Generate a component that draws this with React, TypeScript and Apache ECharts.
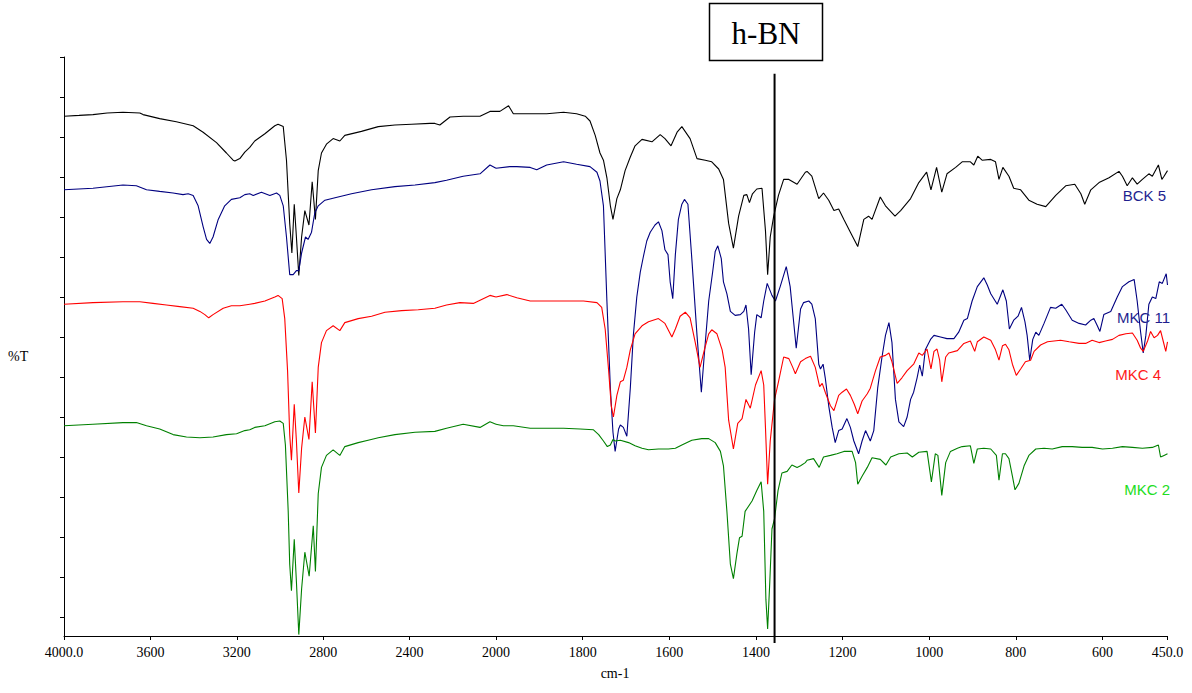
import React, { useEffect, useRef } from 'react';
import * as echarts from 'echarts';

// Wavenumber axis is split: 4000-2000 (400 per division) and 2000-450 (200 per division)
const BREAK = 2000;
const X_TICKS_LOW = [1800, 1600, 1400, 1200, 1000, 800, 600, 450];
const Y_TICKS = [0, 5, 10, 15, 20, 25, 30, 35, 40, 45, 50, 55, 60, 65, 70];
const Y_MIN = -2.375;
const Y_MAX = 70;

// h-BN marker position (cm-1) and its vertical extent (%T units)
const HBN_LINE: [number, number][] = [[1357, 67.9], [1357, -3.25]];

// [wavenumber cm-1, %T (offset, arbitrary units)]
const BCK5: [number, number][] = [[4000,62.6],[3930,62.7],[3866,62.8],[3800,63.0],[3727,63.1],[3649,63.0],[3634,62.8],[3557,62.3],[3480,61.9],[3402,61.4],[3356,60.6],[3294,59.3],[3248,58.0],[3217,57.1],[3209,57.0],[3186,57.3],[3163,58.1],[3140,58.7],[3117,59.5],[3070,60.4],[3024,61.4],[3009,61.6],[2985,61.3],[2970,57.1],[2955,49.2],[2945,45.5],[2934,51.6],[2924,47.5],[2913,42.7],[2900,47.5],[2885,50.8],[2866,49.0],[2851,54.4],[2836,49.7],[2823,55.8],[2808,58.0],[2785,59.1],[2754,59.8],[2723,59.5],[2700,60.2],[2623,60.7],[2545,61.3],[2468,61.5],[2391,61.6],[2306,61.7],[2283,61.7],[2260,61.5],[2213,62.5],[2152,62.6],[2074,62.6],[2028,63.2],[2000,63.2],[1991,63.2],[1971,63.9],[1960,62.9],[1921,62.9],[1883,62.9],[1844,63.1],[1814,62.9],[1794,62.6],[1783,62.0],[1771,60.2],[1760,58.0],[1752,57.1],[1744,54.9],[1736,51.4],[1730,49.7],[1721,52.3],[1713,53.4],[1702,55.8],[1690,57.5],[1679,58.9],[1663,59.7],[1640,59.4],[1621,60.3],[1610,59.8],[1596,58.9],[1582,60.6],[1571,61.3],[1552,59.8],[1536,57.3],[1517,57.1],[1502,56.9],[1486,56.0],[1475,54.7],[1463,49.2],[1452,46.1],[1440,50.1],[1428,52.7],[1421,52.8],[1415,51.8],[1408,52.9],[1398,53.5],[1386,53.6],[1378,48.3],[1373,42.8],[1367,47.5],[1359,50.1],[1348,52.7],[1336,54.7],[1324,54.7],[1305,54.1],[1286,55.6],[1282,55.7],[1271,55.1],[1255,52.3],[1244,53.0],[1232,52.1],[1220,50.8],[1209,51.0],[1197,49.7],[1182,48.1],[1165,46.3],[1151,49.7],[1140,50.1],[1132,49.7],[1113,52.5],[1101,51.4],[1079,50.1],[1066,50.8],[1043,52.3],[1024,54.3],[1006,55.6],[996,53.4],[983,56.2],[971,53.1],[959,55.4],[939,56.2],[924,56.9],[905,56.9],[897,56.5],[888,57.6],[878,57.1],[858,57.2],[847,56.9],[839,54.7],[830,56.2],[816,55.1],[805,53.6],[789,53.4],[770,52.1],[751,51.6],[731,51.3],[708,52.7],[685,53.9],[664,54.1],[650,52.9],[641,51.6],[627,53.4],[608,54.3],[585,54.9],[562,55.7],[554,55.1],[543,53.9],[531,54.9],[520,54.1],[508,54.7],[493,55.4],[485,55.1],[471,56.5],[463,54.7],[458,55.1],[450,55.8]];

const MKC11: [number, number][] = [[4000,53.4],[3866,53.6],[3727,54.0],[3665,53.9],[3618,53.4],[3557,53.2],[3495,53.0],[3449,52.8],[3425,52.9],[3402,52.7],[3379,51.4],[3356,48.8],[3340,47.2],[3325,46.7],[3310,47.5],[3286,49.7],[3256,51.4],[3225,52.2],[3186,52.4],[3163,52.8],[3140,52.9],[3124,52.7],[3086,53.1],[3047,52.7],[3016,53.0],[3001,52.7],[2985,51.4],[2970,47.5],[2955,42.8],[2939,42.8],[2924,43.3],[2913,43.3],[2900,45.5],[2882,47.5],[2870,47.2],[2854,48.1],[2839,50.5],[2823,51.4],[2792,52.1],[2731,52.5],[2669,52.9],[2576,53.4],[2468,53.8],[2375,54.0],[2283,54.3],[2229,54.6],[2152,55.1],[2074,55.4],[2028,56.5],[2000,56.1],[1968,56.3],[1952,56.3],[1921,56.2],[1906,55.9],[1883,56.5],[1844,56.9],[1814,56.6],[1783,56.3],[1767,55.6],[1760,54.5],[1752,51.4],[1744,39.5],[1736,28.6],[1730,23.1],[1725,20.7],[1717,23.5],[1713,24.0],[1706,23.7],[1698,22.6],[1690,28.6],[1683,35.2],[1675,40.0],[1667,43.1],[1660,45.0],[1652,47.0],[1644,48.1],[1633,49.0],[1625,49.4],[1617,48.3],[1610,45.9],[1603,45.3],[1598,41.9],[1592,39.8],[1586,45.3],[1579,49.7],[1571,51.6],[1565,52.2],[1557,51.6],[1548,44.8],[1536,35.2],[1526,28.1],[1519,32.9],[1509,39.5],[1500,43.1],[1494,45.7],[1488,46.4],[1480,44.8],[1475,41.9],[1467,40.4],[1459,38.2],[1448,37.7],[1436,37.8],[1428,38.2],[1423,39.0],[1417,36.0],[1411,30.3],[1403,35.6],[1398,37.8],[1388,37.4],[1382,39.5],[1374,41.7],[1363,40.2],[1355,39.5],[1344,41.3],[1330,43.8],[1321,41.3],[1313,36.9],[1307,33.6],[1297,38.5],[1290,39.3],[1278,39.5],[1271,39.1],[1263,37.3],[1255,31.6],[1251,31.0],[1245,31.6],[1240,29.9],[1232,26.4],[1224,23.7],[1217,21.8],[1209,23.3],[1201,23.5],[1190,24.8],[1182,23.7],[1174,22.0],[1163,20.4],[1155,22.0],[1147,23.3],[1136,22.0],[1128,23.3],[1119,28.6],[1109,32.5],[1101,35.2],[1093,36.8],[1086,34.3],[1078,27.2],[1070,24.4],[1059,23.8],[1051,25.0],[1043,27.2],[1036,28.1],[1028,29.9],[1022,31.5],[1016,30.1],[1009,33.4],[997,34.7],[989,35.2],[974,35.0],[959,34.8],[943,34.8],[932,35.6],[920,37.1],[912,37.3],[901,39.5],[889,41.3],[874,42.4],[866,41.5],[858,40.4],[843,39.1],[830,40.9],[822,39.5],[815,36.0],[805,37.1],[795,37.6],[787,38.7],[779,36.9],[774,35.2],[768,32.1],[761,34.7],[754,35.6],[747,35.2],[735,36.7],[720,38.7],[708,38.6],[694,39.1],[685,38.4],[670,37.1],[654,36.7],[639,36.5],[627,37.1],[620,37.3],[612,36.4],[606,35.7],[597,37.8],[581,38.2],[566,40.0],[554,41.3],[539,41.9],[527,42.2],[520,39.5],[512,35.6],[506,33.0],[500,35.2],[493,39.1],[485,40.0],[477,39.8],[469,41.9],[462,41.7],[453,42.9],[450,41.5]];

const MKC4: [number, number][] = [[4000,39.1],[3866,39.3],[3727,39.4],[3649,39.4],[3588,39.2],[3526,39.0],[3464,38.8],[3402,38.6],[3371,38.2],[3348,37.8],[3330,37.4],[3310,37.8],[3263,38.6],[3225,38.9],[3186,38.9],[3140,39.1],[3117,39.2],[3070,39.5],[3024,40.0],[3009,40.2],[2990,39.8],[2978,37.3],[2965,30.8],[2955,22.8],[2947,19.6],[2934,26.6],[2924,22.0],[2913,15.5],[2900,21.1],[2885,25.0],[2866,22.2],[2851,29.4],[2836,23.0],[2823,31.2],[2808,34.3],[2785,35.8],[2754,36.4],[2723,35.8],[2700,36.8],[2638,37.3],[2576,37.6],[2514,38.1],[2437,38.3],[2360,38.4],[2283,38.6],[2229,39.0],[2167,39.3],[2105,39.2],[2028,40.2],[2000,40.0],[1975,40.3],[1952,39.9],[1921,39.5],[1883,39.5],[1844,39.5],[1798,39.5],[1767,39.3],[1756,38.7],[1748,36.0],[1740,30.8],[1734,26.4],[1729,25.0],[1721,27.7],[1713,29.4],[1706,29.6],[1698,31.2],[1690,33.4],[1679,35.4],[1663,36.4],[1648,36.9],[1625,37.3],[1610,36.7],[1594,35.0],[1586,36.0],[1575,37.6],[1563,38.1],[1552,37.4],[1540,34.3],[1529,31.2],[1519,33.4],[1509,35.4],[1502,35.9],[1490,35.4],[1478,33.4],[1471,31.2],[1463,24.6],[1452,21.0],[1442,24.2],[1432,24.8],[1423,27.2],[1413,26.1],[1401,29.0],[1388,30.8],[1382,29.0],[1378,23.7],[1373,16.6],[1367,22.0],[1357,27.2],[1348,29.4],[1336,32.5],[1324,32.3],[1315,31.2],[1309,30.4],[1297,31.9],[1286,32.3],[1274,32.6],[1263,31.2],[1253,28.8],[1247,29.2],[1240,28.1],[1228,26.4],[1220,25.8],[1209,27.7],[1201,28.1],[1191,28.5],[1182,27.7],[1173,26.6],[1165,25.4],[1155,27.0],[1143,27.9],[1136,28.6],[1124,30.8],[1113,32.5],[1101,32.7],[1093,33.0],[1086,31.9],[1074,29.2],[1063,29.9],[1051,30.8],[1036,31.6],[1024,33.0],[1016,32.7],[1005,33.5],[996,31.0],[989,33.2],[982,33.5],[976,32.1],[971,29.4],[962,32.5],[955,33.0],[935,33.3],[920,34.2],[905,34.5],[895,33.2],[889,34.4],[874,35.0],[858,34.6],[847,33.4],[839,32.1],[831,33.9],[824,34.1],[816,33.4],[808,31.6],[799,30.2],[789,31.0],[778,31.9],[766,32.1],[758,33.2],[743,34.0],[727,34.4],[712,34.5],[697,34.6],[677,34.4],[654,34.2],[639,34.2],[624,34.6],[608,34.3],[593,34.5],[577,34.7],[562,35.2],[546,35.4],[531,35.5],[520,34.6],[512,33.6],[506,33.2],[496,34.5],[489,35.7],[481,34.9],[473,35.2],[466,35.8],[460,34.5],[454,33.2],[450,34.4]];

const MKC2: [number, number][] = [[4000,23.9],[3866,24.1],[3727,24.3],[3665,24.3],[3618,23.9],[3557,23.5],[3495,22.8],[3433,22.5],[3371,22.4],[3310,22.5],[3248,22.8],[3201,22.9],[3163,23.3],[3140,23.4],[3117,23.7],[3070,23.9],[3024,24.4],[3001,24.5],[2985,24.2],[2975,21.5],[2962,13.2],[2955,6.6],[2947,3.3],[2934,9.7],[2924,4.4],[2913,-2.2],[2900,3.5],[2885,8.1],[2865,5.1],[2846,11.4],[2836,5.7],[2823,15.4],[2808,18.7],[2785,20.2],[2754,20.9],[2723,20.2],[2700,21.3],[2638,21.8],[2592,22.1],[2545,22.4],[2468,22.8],[2375,23.1],[2283,23.2],[2229,23.6],[2152,24.1],[2074,23.7],[2028,24.4],[2000,24.1],[1983,23.9],[1960,23.9],[1921,23.6],[1883,23.6],[1844,23.6],[1806,23.5],[1775,23.4],[1763,22.8],[1752,22.0],[1743,21.3],[1736,21.5],[1730,22.2],[1725,22.0],[1713,22.1],[1694,21.8],[1679,21.4],[1663,21.1],[1648,20.9],[1625,21.0],[1602,21.0],[1586,21.1],[1571,21.5],[1548,22.1],[1525,22.3],[1509,22.3],[1494,21.8],[1482,20.7],[1475,18.9],[1467,13.2],[1459,6.6],[1452,4.8],[1444,7.9],[1438,9.9],[1432,10.1],[1425,13.2],[1409,14.5],[1398,15.8],[1388,16.9],[1382,13.2],[1377,2.2],[1373,-1.5],[1368,4.4],[1363,11.0],[1357,12.3],[1349,15.8],[1340,18.0],[1328,18.2],[1317,19.0],[1305,18.7],[1297,18.9],[1286,19.3],[1282,19.6],[1267,19.8],[1254,18.7],[1244,20.0],[1228,20.2],[1213,20.4],[1197,20.7],[1178,20.7],[1170,19.3],[1165,16.6],[1155,17.6],[1143,18.7],[1132,19.9],[1113,19.7],[1100,19.0],[1089,20.0],[1070,20.4],[1051,20.5],[1039,20.0],[1024,20.6],[1005,20.7],[995,16.9],[986,20.4],[980,20.2],[971,15.2],[962,19.3],[951,20.7],[935,21.1],[924,21.3],[905,21.4],[897,19.2],[889,21.0],[874,21.1],[858,21.0],[845,20.2],[839,17.1],[831,20.4],[824,20.4],[816,19.8],[808,17.6],[802,15.9],[793,16.7],[781,18.9],[770,20.2],[754,21.0],[735,21.1],[716,21.0],[693,21.3],[670,21.3],[647,21.2],[624,21.2],[600,21.0],[577,21.1],[554,21.3],[531,21.2],[508,21.1],[485,21.2],[471,21.5],[466,20.0],[458,20.2],[450,20.4]];

const SPECTRA = [
  { name: 'BCK 5', data: BCK5, color: '#000000' },
  { name: 'MKC 11', data: MKC11, color: '#000080' },
  { name: 'MKC 4', data: MKC4, color: '#ff0000' },
  { name: 'MKC 2', data: MKC2, color: '#008000' },
];

const SERIF = 'Liberation Serif';
const SANS = 'Liberation Sans';

export default function App() {
  const ref = useRef<HTMLDivElement>(null);

  useEffect(() => {
    if (!ref.current) return;
    const chart = echarts.init(ref.current, null, { renderer: 'svg' });

    const axisLine = { show: true, onZero: false, lineStyle: { color: '#000', width: 1 } };
    const series: any[] = [];
    SPECTRA.forEach((s) => {
      series.push({
        type: 'line', name: s.name, xAxisIndex: 0, yAxisIndex: 0,
        data: s.data.filter((p) => p[0] >= BREAK), showSymbol: false, symbol: 'none',
        lineStyle: { color: s.color, width: 1.1 }, itemStyle: { color: s.color }, silent: true,
      });
      series.push({
        type: 'line', name: s.name, xAxisIndex: 1, yAxisIndex: 1,
        data: s.data.filter((p) => p[0] <= BREAK), showSymbol: false, symbol: 'none',
        lineStyle: { color: s.color, width: 1.1 }, itemStyle: { color: s.color }, silent: true,
      });
    });
    series.push({
      type: 'line', name: 'h-BN', xAxisIndex: 1, yAxisIndex: 1, data: HBN_LINE,
      showSymbol: false, symbol: 'none', clip: false,
      lineStyle: { color: '#000', width: 2 }, silent: true, z: 5,
    });

    const labelStyle = { color: '#000', fontFamily: SERIF, fontSize: 14, margin: 9 };

    chart.setOption({
      animation: false,
      backgroundColor: '#ffffff',
      textStyle: { fontFamily: SERIF },
      grid: [
        { left: 64, top: 57, width: 432, height: 579 },
        { left: 496, top: 57, width: 671.5, height: 579 },
      ],
      xAxis: [
        {
          gridIndex: 0, type: 'value', min: 2000, max: 4000, interval: 400, inverse: true,
          axisLine, splitLine: { show: false },
          axisTick: { show: true, length: 4, lineStyle: { color: '#000' } },
          axisLabel: {
            ...labelStyle,
            showMinLabel: true, showMaxLabel: true,
            formatter: (v: number) => (v === 4000 ? '4000.0' : String(v)),
          },
        },
        {
          gridIndex: 1, type: 'value', min: 450, max: 2000, inverse: true,
          axisLine, splitLine: { show: false },
          axisTick: { show: true, length: 4, customValues: X_TICKS_LOW, lineStyle: { color: '#000' } },
          axisLabel: {
            ...labelStyle,
            customValues: X_TICKS_LOW,
            formatter: (v: number) => (v === 450 ? '450.0' : String(v)),
          },
        },
      ],
      yAxis: [
        {
          gridIndex: 0, type: 'value', min: Y_MIN, max: Y_MAX,
          axisLine: { show: true, onZero: false, lineStyle: { color: '#000', width: 1 } },
          axisTick: { show: true, length: 4, customValues: Y_TICKS, lineStyle: { color: '#000' } },
          axisLabel: { show: false }, splitLine: { show: false },
        },
        {
          gridIndex: 1, type: 'value', min: Y_MIN, max: Y_MAX, show: false,
          splitLine: { show: false },
        },
      ],
      series,
      graphic: [
        { type: 'text', x: 8, y: 356, style: { text: '%T', fontFamily: SERIF, fontSize: 14, fill: '#000', align: 'left', verticalAlign: 'middle' } },
        { type: 'text', x: 615, y: 673, style: { text: 'cm-1', fontFamily: SERIF, fontSize: 14, fill: '#000', align: 'center', verticalAlign: 'middle' } },
        { type: 'rect', shape: { x: 709.5, y: 3.5, width: 113, height: 57 }, style: { fill: '#fff', stroke: '#000', lineWidth: 1.5 } },
        { type: 'text', x: 766, y: 33, style: { text: 'h-BN', fontFamily: SERIF, fontSize: 31, fill: '#000', align: 'center', verticalAlign: 'middle' } },
        { type: 'text', x: 1166, y: 195, style: { text: 'BCK 5', fontFamily: SANS, fontSize: 15, fill: '#1f1f8f', align: 'right', verticalAlign: 'middle' }, z: 10 },
        { type: 'text', x: 1170, y: 317, style: { text: 'MKC 11', fontFamily: SANS, fontSize: 15, fill: '#1f1f8f', align: 'right', verticalAlign: 'middle' }, z: 10 },
        { type: 'text', x: 1161, y: 374, style: { text: 'MKC 4', fontFamily: SANS, fontSize: 15, fill: '#ff1a1a', align: 'right', verticalAlign: 'middle' }, z: 10 },
        { type: 'text', x: 1170, y: 489, style: { text: 'MKC 2', fontFamily: SANS, fontSize: 15, fill: '#22dd22', align: 'right', verticalAlign: 'middle' }, z: 10 },
      ],
    });

    return () => chart.dispose();
  }, []);

  return (
    <div
      ref={ref}
      style={{ position: 'fixed', left: 0, top: 0, width: 1192, height: 693, background: '#fff' }}
    />
  );
}
